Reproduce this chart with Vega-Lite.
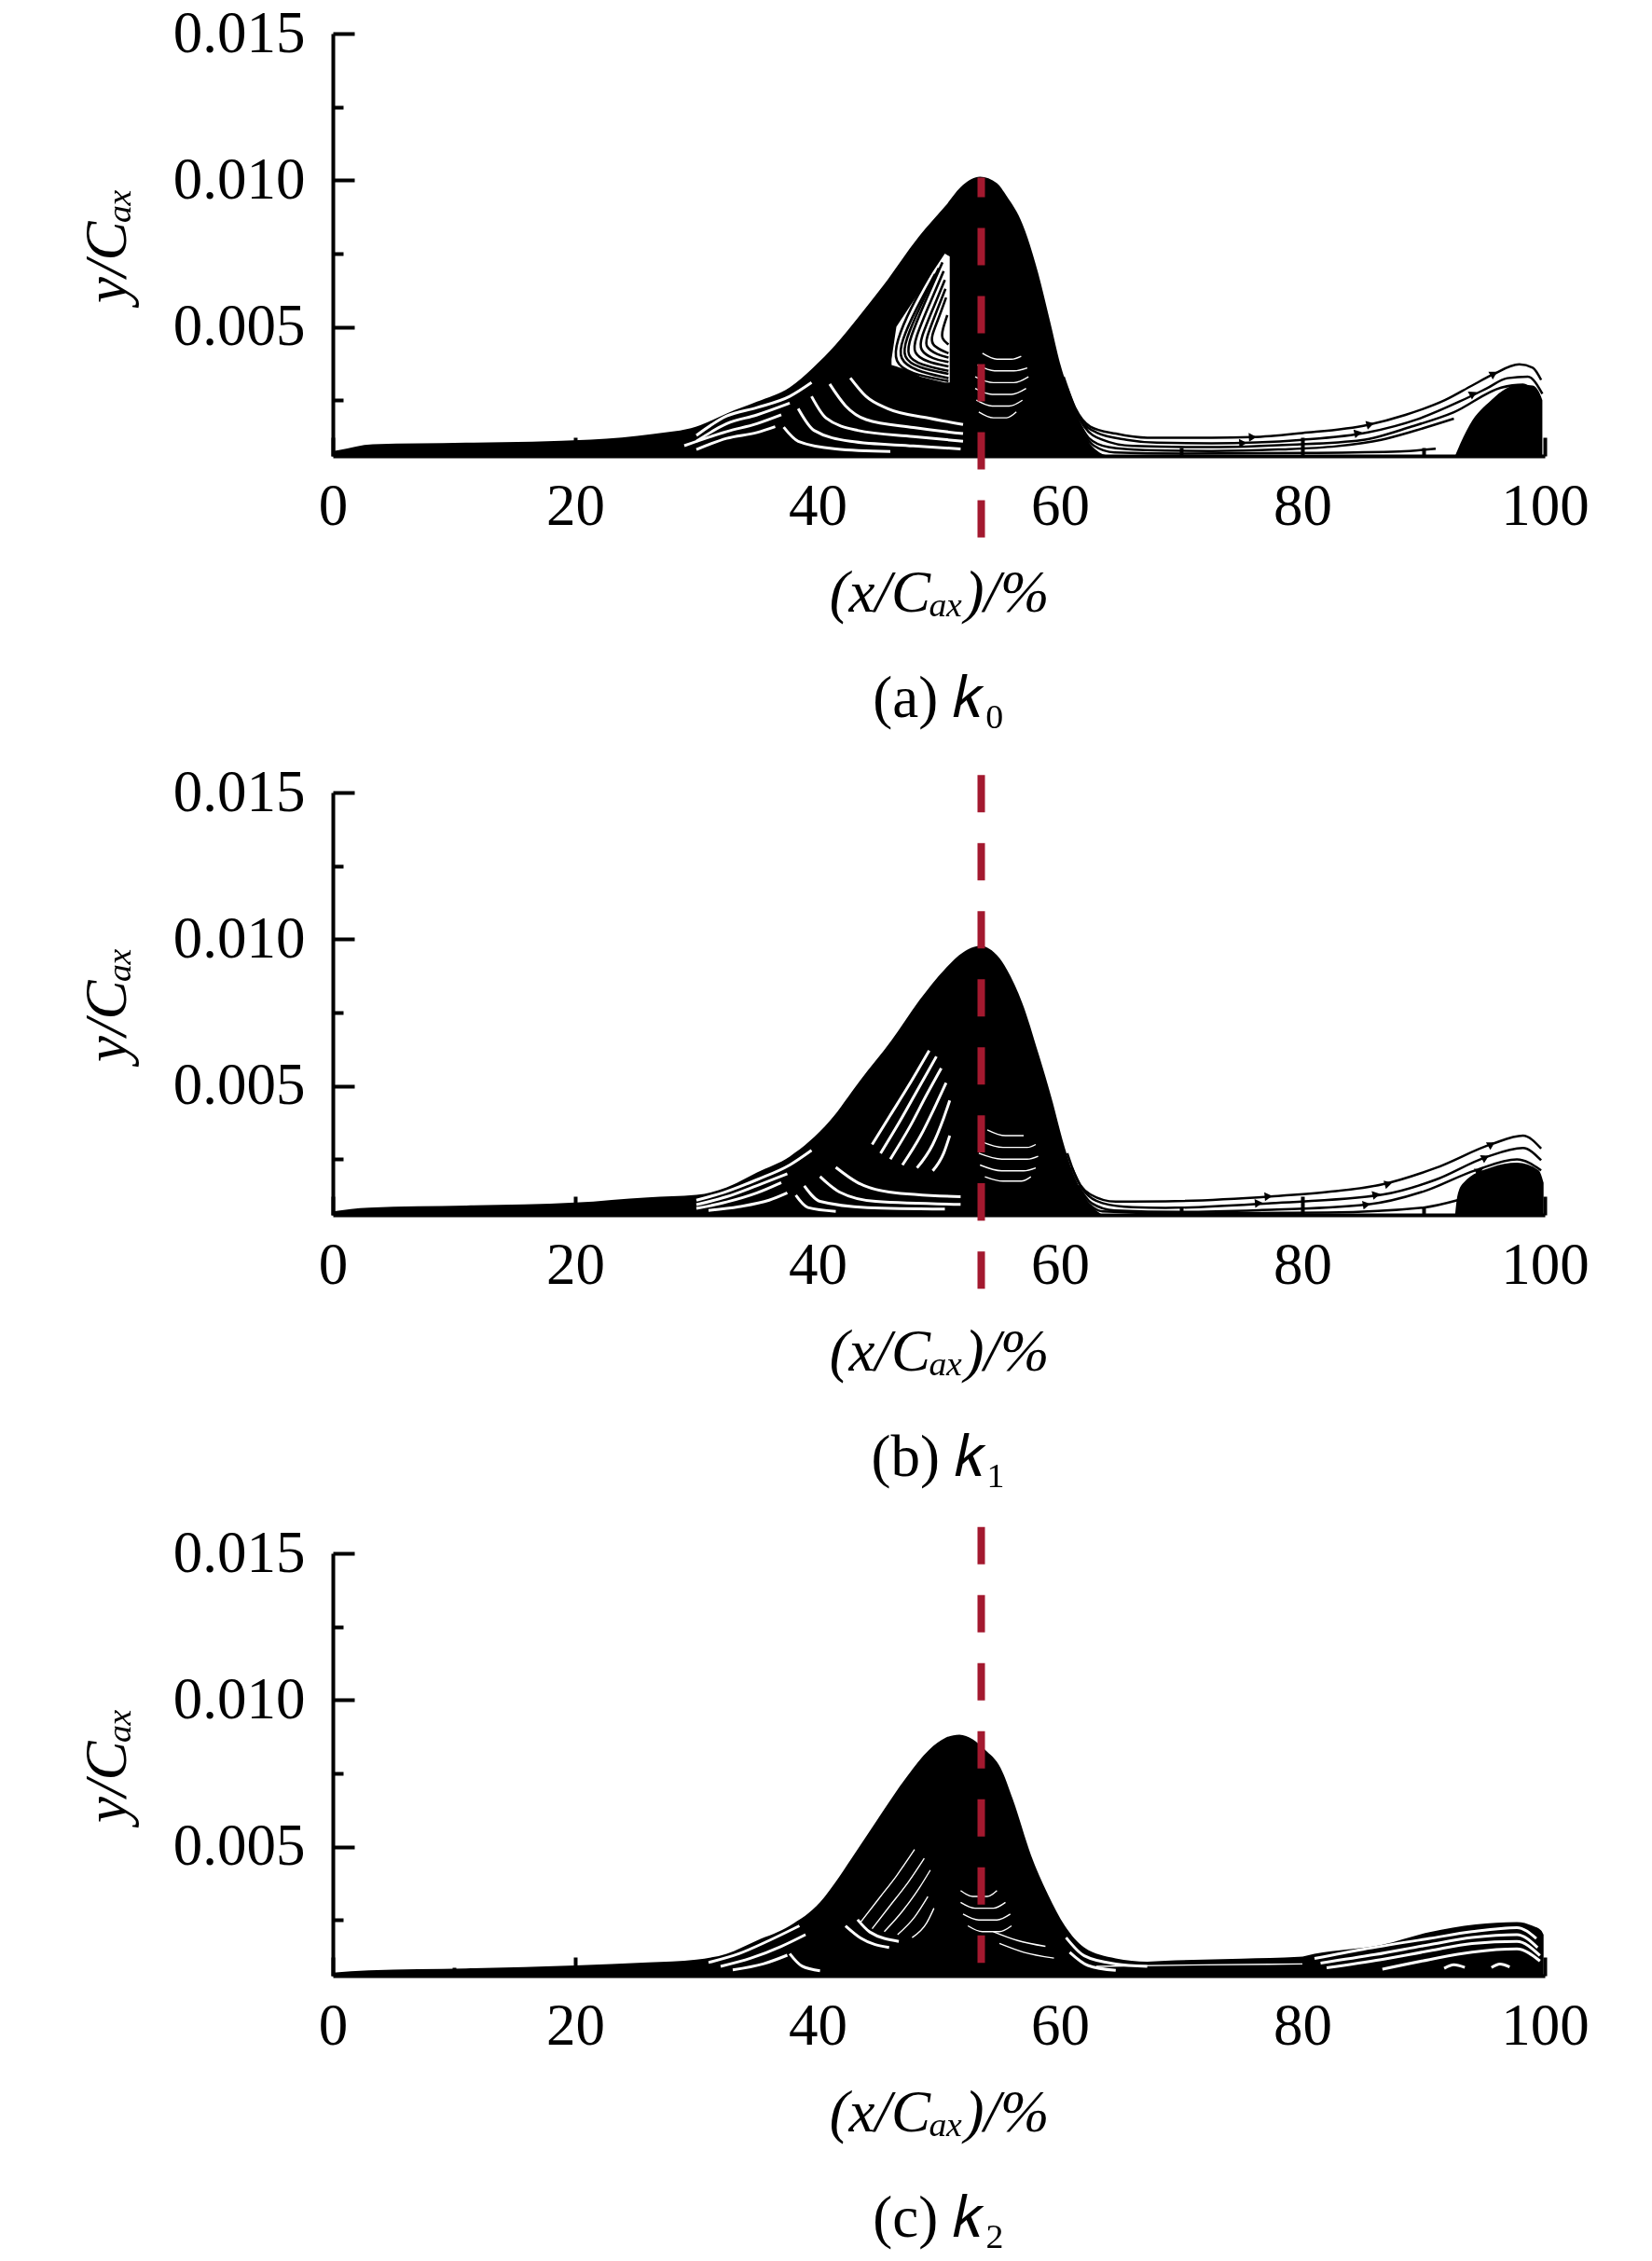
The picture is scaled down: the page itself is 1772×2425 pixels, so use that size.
{
  "$schema": "https://vega.github.io/schema/vega-lite/v6.json",
  "background": "white",
  "padding": {"left": 84, "top": 5, "right": 10, "bottom": 5},
  "spacing": 37,
  "config": {
    "view": {"stroke": null},
    "axis": {"grid": false, "domainColor": "black", "domainWidth": 4, "tickColor": "black", "tickWidth": 4,
      "labelFont": "Liberation Serif", "labelFontSize": 63, "labelColor": "black", "labelOverlap": false, "labelFlush": false, "labelBound": false,
      "titleFont": "Liberation Serif", "titleFontSize": 63, "titleFontWeight": "normal", "titleFontStyle": "italic", "titleColor": "black", "zindex": 1},
    "title": {"font": "Liberation Serif", "fontSize": 63, "fontWeight": "normal", "color": "black"}
  },
  "datasets": {
    "env": [
      {"p":"a","s":"m","x":0,"y":0.00076},{"p":"a","s":"m","x":0.5,"y":0.0008},{"p":"a","s":"m","x":3.3,"y":0.001},{"p":"a","s":"m","x":11,"y":0.00105},
      {"p":"a","s":"m","x":21.3,"y":0.00116},{"p":"a","s":"m","x":26.4,"y":0.00135},{"p":"a","s":"m","x":30,"y":0.0016},{"p":"a","s":"m","x":32.5,"y":0.00205},
      {"p":"a","s":"m","x":35,"y":0.00245},{"p":"a","s":"m","x":37.7,"y":0.00294},{"p":"a","s":"m","x":39.6,"y":0.0036},{"p":"a","s":"m","x":41.5,"y":0.0044},
      {"p":"a","s":"m","x":43.3,"y":0.0053},{"p":"a","s":"m","x":45.4,"y":0.0064},{"p":"a","s":"m","x":48.4,"y":0.0081},{"p":"a","s":"m","x":50.5,"y":0.0091},
      {"p":"a","s":"m","x":52,"y":0.00984},{"p":"a","s":"m","x":53.4,"y":0.01012},{"p":"a","s":"m","x":54.8,"y":0.0099},{"p":"a","s":"m","x":55.6,"y":0.00946},
      {"p":"a","s":"m","x":56.9,"y":0.00851},{"p":"a","s":"m","x":58.2,"y":0.00683},{"p":"a","s":"m","x":59.2,"y":0.00515},{"p":"a","s":"m","x":60,"y":0.00376},
      {"p":"a","s":"m","x":60.8,"y":0.00272},{"p":"a","s":"m","x":61.5,"y":0.0019},{"p":"a","s":"m","x":62.2,"y":0.0012},{"p":"a","s":"m","x":63,"y":0.0008},{"p":"a","s":"m","x":64,"y":0.0006},
      {"p":"a","s":"b","x":92.6,"y":0.0006},{"p":"a","s":"b","x":92.8,"y":0.0008},{"p":"a","s":"b","x":93.8,"y":0.00166},{"p":"a","s":"b","x":95.6,"y":0.00251},
      {"p":"a","s":"b","x":96.8,"y":0.0029},{"p":"a","s":"b","x":97.9,"y":0.00303},{"p":"a","s":"b","x":99,"y":0.003},{"p":"a","s":"b","x":99.5,"y":0.0028},{"p":"a","s":"b","x":99.8,"y":0.0025},

      {"p":"b","s":"m","x":0,"y":0.00072},{"p":"b","s":"m","x":3,"y":0.00085},{"p":"b","s":"m","x":11,"y":0.00092},{"p":"b","s":"m","x":20,"y":0.00102},
      {"p":"b","s":"m","x":26,"y":0.0012},{"p":"b","s":"m","x":30,"y":0.00128},{"p":"b","s":"m","x":32.5,"y":0.00154},{"p":"b","s":"m","x":35,"y":0.00205},
      {"p":"b","s":"m","x":37.7,"y":0.00259},{"p":"b","s":"m","x":41,"y":0.0038},{"p":"b","s":"m","x":43.5,"y":0.00518},{"p":"b","s":"m","x":46.1,"y":0.00655},
      {"p":"b","s":"m","x":48.4,"y":0.00792},{"p":"b","s":"m","x":50.5,"y":0.00898},{"p":"b","s":"m","x":52,"y":0.00955},{"p":"b","s":"m","x":53.4,"y":0.00977},
      {"p":"b","s":"m","x":54.8,"y":0.00945},{"p":"b","s":"m","x":55.6,"y":0.00898},{"p":"b","s":"m","x":56.9,"y":0.00781},{"p":"b","s":"m","x":58.2,"y":0.00613},
      {"p":"b","s":"m","x":59.4,"y":0.00444},{"p":"b","s":"m","x":60.2,"y":0.00317},{"p":"b","s":"m","x":61,"y":0.00212},{"p":"b","s":"m","x":61.8,"y":0.0014},
      {"p":"b","s":"m","x":62.6,"y":0.0009},{"p":"b","s":"m","x":63.5,"y":0.0006},
      {"p":"b","s":"b","x":92.6,"y":0.0006},{"p":"b","s":"b","x":92.8,"y":0.00127},{"p":"b","s":"b","x":93.3,"y":0.0017},{"p":"b","s":"b","x":95.6,"y":0.00222},
      {"p":"b","s":"b","x":97.7,"y":0.00238},{"p":"b","s":"b","x":99.5,"y":0.00212},{"p":"b","s":"b","x":99.9,"y":0.0017},

      {"p":"c","s":"m","x":0,"y":0.0007},{"p":"c","s":"m","x":3,"y":0.00078},{"p":"c","s":"m","x":11,"y":0.00085},{"p":"c","s":"m","x":20,"y":0.00095},
      {"p":"c","s":"m","x":26,"y":0.00105},{"p":"c","s":"m","x":30,"y":0.00115},{"p":"c","s":"m","x":32.5,"y":0.00135},{"p":"c","s":"m","x":35,"y":0.0018},
      {"p":"c","s":"m","x":37.7,"y":0.0023},{"p":"c","s":"m","x":40.2,"y":0.0031},{"p":"c","s":"m","x":41.5,"y":0.0038},{"p":"c","s":"m","x":42.8,"y":0.0046},
      {"p":"c","s":"m","x":44.9,"y":0.0059},{"p":"c","s":"m","x":47.4,"y":0.0074},{"p":"c","s":"m","x":49.2,"y":0.0083},{"p":"c","s":"m","x":50.6,"y":0.00872},
      {"p":"c","s":"m","x":51.7,"y":0.00882},{"p":"c","s":"m","x":52.8,"y":0.00866},{"p":"c","s":"m","x":53.8,"y":0.00831},{"p":"c","s":"m","x":55.1,"y":0.00768},{"p":"c","s":"m","x":56.1,"y":0.00662},
      {"p":"c","s":"m","x":57.6,"y":0.00472},{"p":"c","s":"m","x":58.9,"y":0.00346},{"p":"c","s":"m","x":60.4,"y":0.0023},{"p":"c","s":"m","x":62,"y":0.00156},
      {"p":"c","s":"m","x":64.6,"y":0.00119},{"p":"c","s":"m","x":67.2,"y":0.00108},{"p":"c","s":"m","x":68.7,"y":0.00111},{"p":"c","s":"m","x":75,"y":0.00118},
      {"p":"c","s":"m","x":79.7,"y":0.00124},{"p":"c","s":"m","x":81,"y":0.00135},{"p":"c","s":"m","x":86.6,"y":0.00166},{"p":"c","s":"m","x":90.5,"y":0.00209},
      {"p":"c","s":"m","x":94.3,"y":0.00235},{"p":"c","s":"m","x":97.7,"y":0.00243},{"p":"c","s":"m","x":99,"y":0.0023},{"p":"c","s":"m","x":99.7,"y":0.00214},{"p":"c","s":"m","x":99.9,"y":0.002}
    ],
    "gap": [
      {"p":"a","s":"g1","x":30,"y":0.0013},{"p":"a","s":"g1","x":32.5,"y":0.00196},{"p":"a","s":"g1","x":35,"y":0.00225},{"p":"a","s":"g1","x":37.7,"y":0.00263},{"p":"a","s":"g1","x":39.5,"y":0.0031},
      {"p":"a","s":"g2","x":30,"y":0.0011},{"p":"a","s":"g2","x":32.5,"y":0.0017},{"p":"a","s":"g2","x":35,"y":0.002},{"p":"a","s":"g2","x":37.7,"y":0.0024},
      {"p":"a","s":"g3","x":29,"y":0.00095},{"p":"a","s":"g3","x":32.5,"y":0.00143},{"p":"a","s":"g3","x":35,"y":0.0017},{"p":"a","s":"g3","x":37,"y":0.002},
      {"p":"a","s":"g4","x":30,"y":0.00082},{"p":"a","s":"g4","x":32.5,"y":0.0012},{"p":"a","s":"g4","x":35,"y":0.0014},{"p":"a","s":"g4","x":36.5,"y":0.0016},
      {"p":"a","s":"c1","x":42.7,"y":0.00326},{"p":"a","s":"c1","x":44,"y":0.00263},{"p":"a","s":"c1","x":45.8,"y":0.00221},{"p":"a","s":"c1","x":49.2,"y":0.00189},{"p":"a","s":"c1","x":52,"y":0.00167},
      {"p":"a","s":"c2","x":41,"y":0.00305},{"p":"a","s":"c2","x":42.3,"y":0.00231},{"p":"a","s":"c2","x":44,"y":0.00184},{"p":"a","s":"c2","x":47.9,"y":0.00157},{"p":"a","s":"c2","x":52,"y":0.00136},
      {"p":"a","s":"c3","x":39.5,"y":0.00263},{"p":"a","s":"c3","x":40.7,"y":0.00189},{"p":"a","s":"c3","x":43.3,"y":0.00147},{"p":"a","s":"c3","x":47.9,"y":0.00126},{"p":"a","s":"c3","x":52,"y":0.0011},
      {"p":"a","s":"c4","x":38.4,"y":0.00221},{"p":"a","s":"c4","x":39.7,"y":0.00147},{"p":"a","s":"c4","x":42.7,"y":0.0011},{"p":"a","s":"c4","x":47.9,"y":0.00094},{"p":"a","s":"c4","x":51.8,"y":0.00084},
      {"p":"a","s":"c5","x":37.2,"y":0.00158},{"p":"a","s":"c5","x":38.4,"y":0.0011},{"p":"a","s":"c5","x":41.5,"y":0.00084},{"p":"a","s":"c5","x":46,"y":0.00075},

      {"p":"b","s":"g1","x":30,"y":0.0011},{"p":"b","s":"g1","x":32.5,"y":0.0014},{"p":"b","s":"g1","x":35,"y":0.0018},{"p":"b","s":"g1","x":37.7,"y":0.0023},{"p":"b","s":"g1","x":39.5,"y":0.0028},
      {"p":"b","s":"g2","x":30,"y":0.00095},{"p":"b","s":"g2","x":32.5,"y":0.00122},{"p":"b","s":"g2","x":35,"y":0.0016},{"p":"b","s":"g2","x":37.5,"y":0.002},
      {"p":"b","s":"g3","x":30,"y":0.00082},{"p":"b","s":"g3","x":32.5,"y":0.00104},{"p":"b","s":"g3","x":35,"y":0.00135},{"p":"b","s":"g3","x":37,"y":0.0017},
      {"p":"b","s":"g4","x":31,"y":0.00075},{"p":"b","s":"g4","x":33.5,"y":0.00088},{"p":"b","s":"g4","x":36,"y":0.0011},{"p":"b","s":"g4","x":37.5,"y":0.00135},
      {"p":"b","s":"c1","x":41.5,"y":0.00222},{"p":"b","s":"c1","x":43.3,"y":0.0017},{"p":"b","s":"c1","x":45.9,"y":0.00138},{"p":"b","s":"c1","x":51.8,"y":0.00122},
      {"p":"b","s":"c2","x":40.2,"y":0.00191},{"p":"b","s":"c2","x":41.8,"y":0.00138},{"p":"b","s":"c2","x":44.8,"y":0.00106},{"p":"b","s":"c2","x":51.8,"y":0.00096},
      {"p":"b","s":"c3","x":38.9,"y":0.00159},{"p":"b","s":"c3","x":40.2,"y":0.00106},{"p":"b","s":"c3","x":44.1,"y":0.00085},{"p":"b","s":"c3","x":50.5,"y":0.0008},
      {"p":"b","s":"c4","x":38.2,"y":0.00127},{"p":"b","s":"c4","x":39.2,"y":0.00085},{"p":"b","s":"c4","x":41.5,"y":0.00072},
      {"p":"b","s":"t1","x":44.5,"y":0.003},{"p":"b","s":"t1","x":46,"y":0.004},{"p":"b","s":"t1","x":47.5,"y":0.005},{"p":"b","s":"t1","x":49.2,"y":0.0062},
      {"p":"b","s":"t2","x":45.2,"y":0.0027},{"p":"b","s":"t2","x":46.8,"y":0.0038},{"p":"b","s":"t2","x":48.3,"y":0.0049},{"p":"b","s":"t2","x":49.8,"y":0.006},
      {"p":"b","s":"t3","x":46,"y":0.0025},{"p":"b","s":"t3","x":47.6,"y":0.0036},{"p":"b","s":"t3","x":49,"y":0.0047},{"p":"b","s":"t3","x":50.2,"y":0.0056},
      {"p":"b","s":"t4","x":47,"y":0.0023},{"p":"b","s":"t4","x":48.5,"y":0.0033},{"p":"b","s":"t4","x":49.7,"y":0.0043},{"p":"b","s":"t4","x":50.6,"y":0.0051},
      {"p":"b","s":"t5","x":48.2,"y":0.0022},{"p":"b","s":"t5","x":49.5,"y":0.003},{"p":"b","s":"t5","x":50.4,"y":0.0039},{"p":"b","s":"t5","x":50.9,"y":0.0045},
      {"p":"b","s":"t6","x":49.5,"y":0.0021},{"p":"b","s":"t6","x":50.4,"y":0.0027},{"p":"b","s":"t6","x":50.9,"y":0.0033},

      {"p":"c","s":"g1","x":31,"y":0.00105},{"p":"c","s":"g1","x":33.5,"y":0.00135},{"p":"c","s":"g1","x":36,"y":0.0018},{"p":"c","s":"g1","x":38.5,"y":0.0023},
      {"p":"c","s":"g2","x":32,"y":0.00092},{"p":"c","s":"g2","x":34.5,"y":0.0012},{"p":"c","s":"g2","x":37,"y":0.0016},{"p":"c","s":"g2","x":39,"y":0.002},
      {"p":"c","s":"g3","x":33,"y":0.0008},{"p":"c","s":"g3","x":35.5,"y":0.001},{"p":"c","s":"g3","x":37.5,"y":0.0013},
      {"p":"c","s":"c1","x":42.3,"y":0.0023},{"p":"c","s":"c1","x":43.6,"y":0.00187},{"p":"c","s":"c1","x":45.9,"y":0.00156},
      {"p":"c","s":"c2","x":43.3,"y":0.00251},{"p":"c","s":"c2","x":44.3,"y":0.00209},{"p":"c","s":"c2","x":46.7,"y":0.00177},
      {"p":"c","s":"c3","x":37.7,"y":0.00135},{"p":"c","s":"c3","x":38.7,"y":0.00093},{"p":"c","s":"c3","x":40.2,"y":0.00077},
      {"p":"c","s":"r1","x":81,"y":0.00119},{"p":"c","s":"r1","x":85,"y":0.0015},{"p":"c","s":"r1","x":90.5,"y":0.00187},{"p":"c","s":"r1","x":94,"y":0.0021},{"p":"c","s":"r1","x":97.7,"y":0.00224},{"p":"c","s":"r1","x":99.3,"y":0.00187},
      {"p":"c","s":"r2","x":81.5,"y":0.00103},{"p":"c","s":"r2","x":86,"y":0.00132},{"p":"c","s":"r2","x":90.5,"y":0.00166},{"p":"c","s":"r2","x":94,"y":0.0019},{"p":"c","s":"r2","x":97.7,"y":0.002},{"p":"c","s":"r2","x":99.4,"y":0.00156},
      {"p":"c","s":"r3","x":82,"y":0.00087},{"p":"c","s":"r3","x":86.5,"y":0.00115},{"p":"c","s":"r3","x":90.5,"y":0.00145},{"p":"c","s":"r3","x":94,"y":0.0017},{"p":"c","s":"r3","x":97.7,"y":0.00177},{"p":"c","s":"r3","x":99.6,"y":0.00129},
      {"p":"c","s":"r4","x":86.6,"y":0.00082},{"p":"c","s":"r4","x":90.5,"y":0.00115},{"p":"c","s":"r4","x":94,"y":0.0014},{"p":"c","s":"r4","x":97.7,"y":0.00151},{"p":"c","s":"r4","x":99.6,"y":0.0011},
      {"p":"c","s":"e1","x":91.7,"y":0.00085},{"p":"c","s":"e1","x":92.5,"y":0.00097},{"p":"c","s":"e1","x":93.4,"y":0.00088},
      {"p":"c","s":"e2","x":95.6,"y":0.00088},{"p":"c","s":"e2","x":96.3,"y":0.001},{"p":"c","s":"e2","x":97.1,"y":0.0009},
      {"p":"c","s":"f1","x":60.5,"y":0.0019},{"p":"c","s":"f1","x":62,"y":0.00128},{"p":"c","s":"f1","x":64.6,"y":0.001},{"p":"c","s":"f1","x":67.2,"y":0.00092},
      {"p":"c","s":"f2","x":60.8,"y":0.0014},{"p":"c","s":"f2","x":62.3,"y":0.00095},{"p":"c","s":"f2","x":64.6,"y":0.00078}
    ],
    "fine": [
      {"p":"a","s":"a1","x":53.6,"y":0.0041},{"p":"a","s":"a1","x":54.8,"y":0.0039},{"p":"a","s":"a1","x":56,"y":0.0039},{"p":"a","s":"a1","x":56.8,"y":0.004},
      {"p":"a","s":"a2","x":53.2,"y":0.0037},{"p":"a","s":"a2","x":54.6,"y":0.0035},{"p":"a","s":"a2","x":56.2,"y":0.0035},{"p":"a","s":"a2","x":57.3,"y":0.0036},
      {"p":"a","s":"a3","x":53,"y":0.0033},{"p":"a","s":"a3","x":54.5,"y":0.0031},{"p":"a","s":"a3","x":56.2,"y":0.0031},{"p":"a","s":"a3","x":57.4,"y":0.0033},
      {"p":"a","s":"a4","x":53,"y":0.0029},{"p":"a","s":"a4","x":54.4,"y":0.0027},{"p":"a","s":"a4","x":56,"y":0.0027},{"p":"a","s":"a4","x":57.2,"y":0.0029},
      {"p":"a","s":"a5","x":53.1,"y":0.0025},{"p":"a","s":"a5","x":54.4,"y":0.0023},{"p":"a","s":"a5","x":55.8,"y":0.0023},{"p":"a","s":"a5","x":56.9,"y":0.0025},
      {"p":"a","s":"a6","x":53.3,"y":0.0021},{"p":"a","s":"a6","x":54.5,"y":0.0019},{"p":"a","s":"a6","x":55.6,"y":0.0019},{"p":"a","s":"a6","x":56.4,"y":0.0021},

      {"p":"b","s":"a1","x":54,"y":0.0035},{"p":"b","s":"a1","x":55.5,"y":0.0033},{"p":"b","s":"a1","x":57,"y":0.0033},
      {"p":"b","s":"a2","x":53.5,"y":0.0031},{"p":"b","s":"a2","x":55.3,"y":0.0029},{"p":"b","s":"a2","x":57.3,"y":0.0029},{"p":"b","s":"a2","x":58,"y":0.003},
      {"p":"b","s":"a3","x":53.3,"y":0.0027},{"p":"b","s":"a3","x":55.2,"y":0.0025},{"p":"b","s":"a3","x":57.3,"y":0.0025},{"p":"b","s":"a3","x":58.2,"y":0.0026},
      {"p":"b","s":"a4","x":53.4,"y":0.0023},{"p":"b","s":"a4","x":55.2,"y":0.0021},{"p":"b","s":"a4","x":57,"y":0.0021},{"p":"b","s":"a4","x":58,"y":0.0022},
      {"p":"b","s":"a5","x":53.8,"y":0.0019},{"p":"b","s":"a5","x":55.3,"y":0.00175},{"p":"b","s":"a5","x":56.8,"y":0.00175},{"p":"b","s":"a5","x":57.6,"y":0.0019},

      {"p":"c","s":"a1","x":51.8,"y":0.0035},{"p":"c","s":"a1","x":52.8,"y":0.0033},{"p":"c","s":"a1","x":54,"y":0.0033},{"p":"c","s":"a1","x":54.8,"y":0.0035},
      {"p":"c","s":"a2","x":51.8,"y":0.0031},{"p":"c","s":"a2","x":53,"y":0.0029},{"p":"c","s":"a2","x":54.5,"y":0.0029},{"p":"c","s":"a2","x":55.5,"y":0.0031},
      {"p":"c","s":"a3","x":52,"y":0.0027},{"p":"c","s":"a3","x":53.3,"y":0.0025},{"p":"c","s":"a3","x":54.8,"y":0.0025},{"p":"c","s":"a3","x":55.9,"y":0.0027},
      {"p":"c","s":"a4","x":52.4,"y":0.0023},{"p":"c","s":"a4","x":53.6,"y":0.0021},{"p":"c","s":"a4","x":55,"y":0.0021},{"p":"c","s":"a4","x":56,"y":0.0023},
      {"p":"c","s":"a5","x":55,"y":0.0017},{"p":"c","s":"a5","x":57,"y":0.0014},{"p":"c","s":"a5","x":59.5,"y":0.0012},
      {"p":"c","s":"a6","x":54.5,"y":0.0021},{"p":"c","s":"a6","x":56.5,"y":0.0018},{"p":"c","s":"a6","x":58.8,"y":0.0016},
      {"p":"c","s":"t1","x":43.5,"y":0.0024},{"p":"c","s":"t1","x":45,"y":0.0032},{"p":"c","s":"t1","x":46.5,"y":0.004},{"p":"c","s":"t1","x":48,"y":0.0049},
      {"p":"c","s":"t2","x":44.5,"y":0.0022},{"p":"c","s":"t2","x":46,"y":0.003},{"p":"c","s":"t2","x":47.5,"y":0.0038},{"p":"c","s":"t2","x":48.8,"y":0.0046},
      {"p":"c","s":"t3","x":45.5,"y":0.0021},{"p":"c","s":"t3","x":47,"y":0.0028},{"p":"c","s":"t3","x":48.4,"y":0.0036},{"p":"c","s":"t3","x":49.3,"y":0.0042},
      {"p":"c","s":"t4","x":46.6,"y":0.002},{"p":"c","s":"t4","x":48,"y":0.0026},{"p":"c","s":"t4","x":49.1,"y":0.0033},
      {"p":"c","s":"t5","x":47.8,"y":0.0019},{"p":"c","s":"t5","x":49,"y":0.0024},{"p":"c","s":"t5","x":49.6,"y":0.0029},
      {"p":"c","s":"bl","x":63,"y":0.00092},{"p":"c","s":"bl","x":72,"y":0.00097},{"p":"c","s":"bl","x":80,"y":0.001}
    ],
    "patch": [
      {"p":"a","x":46.1,"y":0.0039,"yb":0.0037},{"p":"a","x":46.5,"y":0.005,"yb":0.00365},{"p":"a","x":47.5,"y":0.00563,"yb":0.0035},
      {"p":"a","x":48.5,"y":0.00625,"yb":0.0033},{"p":"a","x":49.5,"y":0.00688,"yb":0.0032},{"p":"a","x":50.5,"y":0.0075,"yb":0.0031},{"p":"a","x":50.9,"y":0.0074,"yb":0.0031}
    ],
    "vort": [
      {"p":"a","s":"t0","o":1,"x":49.4,"y":0.0069},{"p":"a","s":"t0","o":2,"x":47.6,"y":0.0056},{"p":"a","s":"t0","o":3,"x":46.5,"y":0.0045},{"p":"a","s":"t0","o":4,"x":46.3,"y":0.0038},{"p":"a","s":"t0","o":5,"x":47.6,"y":0.0034},{"p":"a","s":"t0","o":6,"x":50.8,"y":0.00315},
      {"p":"a","s":"t4","o":1,"x":49.7,"y":0.0068},{"p":"a","s":"t4","o":2,"x":48.1,"y":0.0056},{"p":"a","s":"t4","o":3,"x":46.9,"y":0.0045},{"p":"a","s":"t4","o":4,"x":46.7,"y":0.0039},{"p":"a","s":"t4","o":5,"x":48,"y":0.0035},{"p":"a","s":"t4","o":6,"x":50.8,"y":0.00325},
      {"p":"a","s":"t6","o":1,"x":50,"y":0.007},{"p":"a","s":"t6","o":2,"x":48.45,"y":0.0057},{"p":"a","s":"t6","o":3,"x":47.25,"y":0.00455},{"p":"a","s":"t6","o":4,"x":47,"y":0.00395},{"p":"a","s":"t6","o":5,"x":48.25,"y":0.0036},{"p":"a","s":"t6","o":6,"x":50.8,"y":0.0034},
      {"p":"a","s":"t1","o":1,"x":50.3,"y":0.0072},{"p":"a","s":"t1","o":2,"x":48.8,"y":0.0058},{"p":"a","s":"t1","o":3,"x":47.6,"y":0.0046},{"p":"a","s":"t1","o":4,"x":47.3,"y":0.004},{"p":"a","s":"t1","o":5,"x":48.5,"y":0.0037},{"p":"a","s":"t1","o":6,"x":50.8,"y":0.0035},
      {"p":"a","s":"t7","o":1,"x":50.4,"y":0.0069},{"p":"a","s":"t7","o":2,"x":49.1,"y":0.00565},{"p":"a","s":"t7","o":3,"x":48.05,"y":0.0046},{"p":"a","s":"t7","o":4,"x":47.85,"y":0.0041},{"p":"a","s":"t7","o":5,"x":49,"y":0.0038},{"p":"a","s":"t7","o":6,"x":50.8,"y":0.00365},
      {"p":"a","s":"t2","o":1,"x":50.5,"y":0.0066},{"p":"a","s":"t2","o":2,"x":49.4,"y":0.0055},{"p":"a","s":"t2","o":3,"x":48.5,"y":0.0046},{"p":"a","s":"t2","o":4,"x":48.4,"y":0.0042},{"p":"a","s":"t2","o":5,"x":49.5,"y":0.0039},{"p":"a","s":"t2","o":6,"x":50.8,"y":0.0038},
      {"p":"a","s":"t8","o":1,"x":50.55,"y":0.0063},{"p":"a","s":"t8","o":2,"x":49.65,"y":0.00535},{"p":"a","s":"t8","o":3,"x":48.95,"y":0.0046},{"p":"a","s":"t8","o":4,"x":48.9,"y":0.0043},{"p":"a","s":"t8","o":5,"x":49.85,"y":0.00405},{"p":"a","s":"t8","o":6,"x":50.8,"y":0.00395},
      {"p":"a","s":"t3","o":1,"x":50.6,"y":0.006},{"p":"a","s":"t3","o":2,"x":49.9,"y":0.0052},{"p":"a","s":"t3","o":3,"x":49.4,"y":0.0047},{"p":"a","s":"t3","o":4,"x":49.4,"y":0.0044},{"p":"a","s":"t3","o":5,"x":50.2,"y":0.0042},{"p":"a","s":"t3","o":6,"x":50.8,"y":0.0041},
      {"p":"a","s":"t5","o":1,"x":50.7,"y":0.0054},{"p":"a","s":"t5","o":2,"x":50.3,"y":0.0049},{"p":"a","s":"t5","o":3,"x":50.2,"y":0.0046},{"p":"a","s":"t5","o":4,"x":50.8,"y":0.0044}
    ],
    "flow": [
      {"p":"a","s":"R1","x":60.3,"y":0.0033},{"p":"a","s":"R1","x":61.3,"y":0.0022},{"p":"a","s":"R1","x":62.5,"y":0.0016},{"p":"a","s":"R1","x":64.6,"y":0.00136},
      {"p":"a","s":"R1","x":67.2,"y":0.00122},{"p":"a","s":"R1","x":72.5,"y":0.00122},{"p":"a","s":"R1","x":75.9,"y":0.00124},{"p":"a","s":"R1","x":80,"y":0.00138},
      {"p":"a","s":"R1","x":85.4,"y":0.00166},{"p":"a","s":"R1","x":88.5,"y":0.002},{"p":"a","s":"R1","x":91.8,"y":0.00251},{"p":"a","s":"R1","x":94,"y":0.003},
      {"p":"a","s":"R1","x":95.6,"y":0.00335},{"p":"a","s":"R1","x":97.9,"y":0.00372},{"p":"a","s":"R1","x":99,"y":0.00361},{"p":"a","s":"R1","x":99.7,"y":0.00319},
      {"p":"a","s":"R2","x":60.6,"y":0.0029},{"p":"a","s":"R2","x":61.6,"y":0.0019},{"p":"a","s":"R2","x":63,"y":0.0014},{"p":"a","s":"R2","x":65.5,"y":0.00115},
      {"p":"a","s":"R2","x":68,"y":0.00105},{"p":"a","s":"R2","x":72.5,"y":0.00103},{"p":"a","s":"R2","x":80,"y":0.00115},{"p":"a","s":"R2","x":85.4,"y":0.0014},
      {"p":"a","s":"R2","x":89.5,"y":0.00185},{"p":"a","s":"R2","x":93,"y":0.00246},{"p":"a","s":"R2","x":95.2,"y":0.0029},{"p":"a","s":"R2","x":96.9,"y":0.00325},
      {"p":"a","s":"R2","x":98.6,"y":0.0033},{"p":"a","s":"R2","x":99.8,"y":0.00272},
      {"p":"a","s":"R3","x":61,"y":0.0024},{"p":"a","s":"R3","x":62,"y":0.0016},{"p":"a","s":"R3","x":63.5,"y":0.00115},{"p":"a","s":"R3","x":66,"y":0.00094},
      {"p":"a","s":"R3","x":72.5,"y":0.0009},{"p":"a","s":"R3","x":79,"y":0.00098},{"p":"a","s":"R3","x":84.9,"y":0.00114},{"p":"a","s":"R3","x":89,"y":0.0016},
      {"p":"a","s":"R3","x":92.5,"y":0.00209},{"p":"a","s":"R3","x":96.4,"y":0.00293},{"p":"a","s":"R3","x":98.2,"y":0.00303},{"p":"a","s":"R3","x":99.7,"y":0.00235},
      {"p":"a","s":"R4","x":61.4,"y":0.0019},{"p":"a","s":"R4","x":62.4,"y":0.0012},{"p":"a","s":"R4","x":64,"y":0.0009},{"p":"a","s":"R4","x":67,"y":0.0008},
      {"p":"a","s":"R4","x":72.5,"y":0.00077},{"p":"a","s":"R4","x":78,"y":0.00082},{"p":"a","s":"R4","x":82.8,"y":0.00093},{"p":"a","s":"R4","x":86.5,"y":0.00115},
      {"p":"a","s":"R4","x":89.2,"y":0.00145},{"p":"a","s":"R4","x":92.5,"y":0.00187},
      {"p":"a","s":"R5","x":61.8,"y":0.0014},{"p":"a","s":"R5","x":62.8,"y":0.00095},{"p":"a","s":"R5","x":64.5,"y":0.00072},{"p":"a","s":"R5","x":70,"y":0.00068},
      {"p":"a","s":"R5","x":80,"y":0.0007},{"p":"a","s":"R5","x":88,"y":0.00075},{"p":"a","s":"R5","x":91,"y":0.00085},

      {"p":"b","s":"R1","x":60.6,"y":0.0027},{"p":"b","s":"R1","x":61.4,"y":0.0018},{"p":"b","s":"R1","x":62.5,"y":0.0013},{"p":"b","s":"R1","x":64.6,"y":0.00105},
      {"p":"b","s":"R1","x":68.7,"y":0.00106},{"p":"b","s":"R1","x":77.4,"y":0.00123},{"p":"b","s":"R1","x":82,"y":0.00138},{"p":"b","s":"R1","x":86.6,"y":0.00164},
      {"p":"b","s":"R1","x":91,"y":0.0022},{"p":"b","s":"R1","x":95.6,"y":0.00301},{"p":"b","s":"R1","x":98.2,"y":0.0033},{"p":"b","s":"R1","x":99.7,"y":0.00286},
      {"p":"b","s":"R2","x":61,"y":0.0022},{"p":"b","s":"R2","x":62,"y":0.0014},{"p":"b","s":"R2","x":63.5,"y":0.001},{"p":"b","s":"R2","x":66,"y":0.00086},
      {"p":"b","s":"R2","x":68.7,"y":0.00084},{"p":"b","s":"R2","x":77.4,"y":0.001},{"p":"b","s":"R2","x":86.6,"y":0.00129},{"p":"b","s":"R2","x":91,"y":0.0018},
      {"p":"b","s":"R2","x":95.1,"y":0.00256},{"p":"b","s":"R2","x":98.2,"y":0.00288},{"p":"b","s":"R2","x":99.7,"y":0.00246},
      {"p":"b","s":"R3","x":61.5,"y":0.0016},{"p":"b","s":"R3","x":62.6,"y":0.001},{"p":"b","s":"R3","x":64.5,"y":0.00075},{"p":"b","s":"R3","x":70,"y":0.0007},
      {"p":"b","s":"R3","x":76.4,"y":0.00076},{"p":"b","s":"R3","x":85.3,"y":0.00095},{"p":"b","s":"R3","x":90,"y":0.0014},{"p":"b","s":"R3","x":94.3,"y":0.00212},
      {"p":"b","s":"R3","x":97.7,"y":0.00249},{"p":"b","s":"R3","x":99.7,"y":0.00212},
      {"p":"b","s":"R4","x":62,"y":0.0011},{"p":"b","s":"R4","x":63.5,"y":0.00072},{"p":"b","s":"R4","x":70,"y":0.00065},{"p":"b","s":"R4","x":82,"y":0.00068},
      {"p":"b","s":"R4","x":90,"y":0.00085},{"p":"b","s":"R4","x":92.8,"y":0.0011}
    ],
    "arrow": [
      {"p":"a","x":75.9,"y":0.00124,"dir":-3},{"p":"a","x":85.6,"y":0.00168,"dir":-15},{"p":"a","x":95.8,"y":0.0034,"dir":-30},
      {"p":"a","x":75.1,"y":0.00104,"dir":-3},{"p":"a","x":84.6,"y":0.00138,"dir":-12},{"p":"a","x":94.1,"y":0.00272,"dir":-28},
      {"p":"b","x":77.2,"y":0.00123,"dir":-5},{"p":"b","x":87.1,"y":0.00166,"dir":-15},{"p":"b","x":95.6,"y":0.00301,"dir":-30},
      {"p":"b","x":76.4,"y":0.001,"dir":-5},{"p":"b","x":86.1,"y":0.00129,"dir":-12},{"p":"b","x":95.1,"y":0.00256,"dir":-28},
      {"p":"b","x":85.3,"y":0.00095,"dir":-10},{"p":"b","x":94.6,"y":0.0021,"dir":-28}
    ],
    "cut": [
      {"p":"a","x":53.5,"y":0.01009,"yb":-0.00219},
      {"p":"b","x":53.5,"y":0.0156,"yb":-0.00222},
      {"p":"c","x":53.5,"y":0.0159,"yb":0.00104}
    ]
  },
  "vconcat": [
    {
      "width": 1300, "height": 453,
      "title": {"text": "(a) 𝑘₀", "orient": "bottom", "offset": 51, "frame": "group", "anchor": "middle"},
      "encoding": {
        "x": {"field": "x", "type": "quantitative", "scale": {"domain": [0, 100], "nice": false, "zero": false},
          "axis": {"values": [0,10,20,30,40,50,60,70,80,90,100], "labelExpr": "datum.value % 20 === 0 ? datum.label : ''",
            "tickSize": {"condition": {"test": "datum.value % 20 === 0", "value": -20}, "value": -9},
            "labelPadding": 43, "title": "(x/Cₐₓ)/%", "titlePadding": 19}},
        "y": {"field": "y", "type": "quantitative", "scale": {"domain": [0.0006, 0.015], "nice": false, "zero": false},
          "axis": {"values": [0.0025,0.005,0.0075,0.01,0.0125,0.015], "labelExpr": "round(datum.value*1000) % 5 === 0 ? format(datum.value, '.3f') : ''",
            "tickSize": {"condition": {"test": "round(datum.value*1000) % 5 === 0", "value": -23}, "value": -11},
            "labelPadding": 53, "title": "y/Cₐₓ", "titlePadding": 38}}
      },
      "layer": [
        {"data": {"name": "env"}, "transform": [{"filter": "datum.p === 'a'"}], "mark": {"type": "area", "color": "black", "interpolate": "monotone"}, "encoding": {"y2": {"datum": 0.0006}, "detail": {"field": "s", "type": "nominal"}}},
        {"data": {"name": "gap"}, "transform": [{"filter": "datum.p === 'a'"}], "mark": {"type": "line", "color": "white", "strokeWidth": 3, "interpolate": "monotone"}, "encoding": {"detail": {"field": "s", "type": "nominal"}}},
        {"data": {"name": "fine"}, "transform": [{"filter": "datum.p === 'a'"}], "mark": {"type": "line", "color": "white", "strokeWidth": 1.4, "interpolate": "monotone"}, "encoding": {"detail": {"field": "s", "type": "nominal"}}},
        {"data": {"name": "patch"}, "transform": [{"filter": "datum.p === 'a'"}], "mark": {"type": "area", "color": "white"}, "encoding": {"y2": {"field": "yb"}}},
        {"data": {"name": "vort"}, "transform": [{"filter": "datum.p === 'a'"}], "mark": {"type": "line", "color": "black", "strokeWidth": 2.6, "interpolate": "basis"}, "encoding": {"detail": {"field": "s", "type": "nominal"}, "order": {"field": "o", "type": "quantitative"}}},
        {"data": {"name": "flow"}, "transform": [{"filter": "datum.p === 'a'"}], "mark": {"type": "line", "color": "black", "strokeWidth": 2.5, "interpolate": "monotone"}, "encoding": {"detail": {"field": "s", "type": "nominal"}}},
        {"data": {"name": "arrow"}, "transform": [{"filter": "datum.p === 'a'"}], "mark": {"type": "point", "shape": "triangle-right", "filled": true, "color": "black", "size": 90, "opacity": 1}, "encoding": {"angle": {"field": "dir", "type": "quantitative", "scale": null}}},
        {"data": {"name": "cut"}, "transform": [{"filter": "datum.p === 'a'"}], "mark": {"type": "rule", "color": "#a3192f", "strokeWidth": 8, "strokeDash": [40, 33], "strokeDashOffset": 19}, "encoding": {"y2": {"field": "yb"}}}
      ]
    },
    {
      "width": 1300, "height": 453,
      "title": {"text": "(b) 𝑘₁", "orient": "bottom", "offset": 51, "frame": "group", "anchor": "middle"},
      "encoding": {
        "x": {"field": "x", "type": "quantitative", "scale": {"domain": [0, 100], "nice": false, "zero": false},
          "axis": {"values": [0,10,20,30,40,50,60,70,80,90,100], "labelExpr": "datum.value % 20 === 0 ? datum.label : ''",
            "tickSize": {"condition": {"test": "datum.value % 20 === 0", "value": -20}, "value": -9},
            "labelPadding": 43, "title": "(x/Cₐₓ)/%", "titlePadding": 19}},
        "y": {"field": "y", "type": "quantitative", "scale": {"domain": [0.0006, 0.015], "nice": false, "zero": false},
          "axis": {"values": [0.0025,0.005,0.0075,0.01,0.0125,0.015], "labelExpr": "round(datum.value*1000) % 5 === 0 ? format(datum.value, '.3f') : ''",
            "tickSize": {"condition": {"test": "round(datum.value*1000) % 5 === 0", "value": -23}, "value": -11},
            "labelPadding": 53, "title": "y/Cₐₓ", "titlePadding": 38}}
      },
      "layer": [
        {"data": {"name": "env"}, "transform": [{"filter": "datum.p === 'b'"}], "mark": {"type": "area", "color": "black", "interpolate": "monotone"}, "encoding": {"y2": {"datum": 0.0006}, "detail": {"field": "s", "type": "nominal"}}},
        {"data": {"name": "gap"}, "transform": [{"filter": "datum.p === 'b'"}], "mark": {"type": "line", "color": "white", "strokeWidth": 3, "interpolate": "monotone"}, "encoding": {"detail": {"field": "s", "type": "nominal"}}},
        {"data": {"name": "fine"}, "transform": [{"filter": "datum.p === 'b'"}], "mark": {"type": "line", "color": "white", "strokeWidth": 1.4, "interpolate": "monotone"}, "encoding": {"detail": {"field": "s", "type": "nominal"}}},
        {"data": {"name": "flow"}, "transform": [{"filter": "datum.p === 'b'"}], "mark": {"type": "line", "color": "black", "strokeWidth": 2.5, "interpolate": "monotone"}, "encoding": {"detail": {"field": "s", "type": "nominal"}}},
        {"data": {"name": "arrow"}, "transform": [{"filter": "datum.p === 'b'"}], "mark": {"type": "point", "shape": "triangle-right", "filled": true, "color": "black", "size": 90, "opacity": 1}, "encoding": {"angle": {"field": "dir", "type": "quantitative", "scale": null}}},
        {"data": {"name": "cut"}, "transform": [{"filter": "datum.p === 'b'"}], "mark": {"type": "rule", "color": "#a3192f", "strokeWidth": 8, "strokeDash": [40, 33]}, "encoding": {"y2": {"field": "yb"}}}
      ]
    },
    {
      "width": 1300, "height": 453,
      "title": {"text": "(c) 𝑘₂", "orient": "bottom", "offset": 51, "frame": "group", "anchor": "middle"},
      "encoding": {
        "x": {"field": "x", "type": "quantitative", "scale": {"domain": [0, 100], "nice": false, "zero": false},
          "axis": {"values": [0,10,20,30,40,50,60,70,80,90,100], "labelExpr": "datum.value % 20 === 0 ? datum.label : ''",
            "tickSize": {"condition": {"test": "datum.value % 20 === 0", "value": -20}, "value": -9},
            "labelPadding": 43, "title": "(x/Cₐₓ)/%", "titlePadding": 19}},
        "y": {"field": "y", "type": "quantitative", "scale": {"domain": [0.0006, 0.015], "nice": false, "zero": false},
          "axis": {"values": [0.0025,0.005,0.0075,0.01,0.0125,0.015], "labelExpr": "round(datum.value*1000) % 5 === 0 ? format(datum.value, '.3f') : ''",
            "tickSize": {"condition": {"test": "round(datum.value*1000) % 5 === 0", "value": -23}, "value": -11},
            "labelPadding": 53, "title": "y/Cₐₓ", "titlePadding": 38}}
      },
      "layer": [
        {"data": {"name": "env"}, "transform": [{"filter": "datum.p === 'c'"}], "mark": {"type": "area", "color": "black", "interpolate": "monotone"}, "encoding": {"y2": {"datum": 0.0006}, "detail": {"field": "s", "type": "nominal"}}},
        {"data": {"name": "gap"}, "transform": [{"filter": "datum.p === 'c'"}], "mark": {"type": "line", "color": "white", "strokeWidth": 3, "interpolate": "monotone"}, "encoding": {"detail": {"field": "s", "type": "nominal"}}},
        {"data": {"name": "fine"}, "transform": [{"filter": "datum.p === 'c'"}], "mark": {"type": "line", "color": "white", "strokeWidth": 1.4, "interpolate": "monotone"}, "encoding": {"detail": {"field": "s", "type": "nominal"}}},
        {"data": {"name": "cut"}, "transform": [{"filter": "datum.p === 'c'"}], "mark": {"type": "rule", "color": "#a3192f", "strokeWidth": 8, "strokeDash": [40, 33]}, "encoding": {"y2": {"field": "yb"}}}
      ]
    }
  ]
}
